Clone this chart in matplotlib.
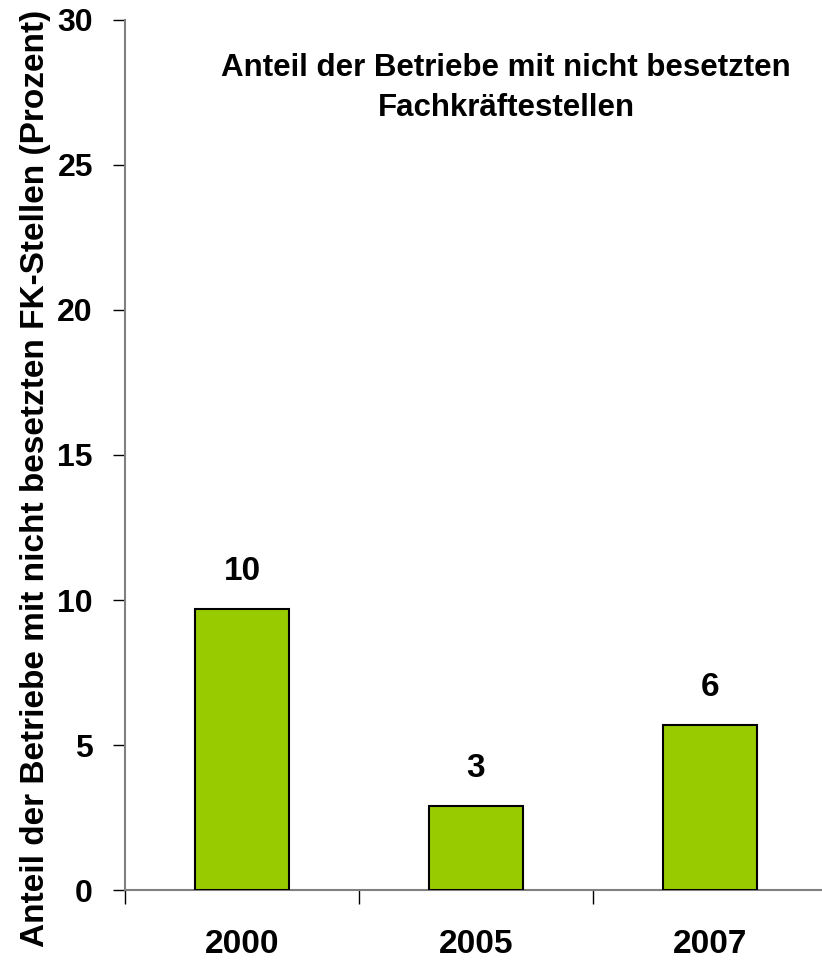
import matplotlib.pyplot as plt
import numpy as np

plt.rcParams['font.family'] = ['Liberation Sans', 'DejaVu Sans']

years = ['2000', '2005', '2007']
shares = [9.7, 2.9, 5.7]
y_ticks = [0, 5, 10, 15, 20, 25, 30]

fig = plt.figure(figsize=(8.22, 9.6), dpi=100)
ax = fig.add_axes([0.152, 0.0729, 0.854, 0.9063])

x = np.arange(len(years))
bars = ax.bar(x, shares, width=0.4, color='#99CC00', edgecolor='black', linewidth=1.5, zorder=3)

for xi, v in zip(x, shares):
  ax.text(xi, v + 0.75, f'{v:.0f}', ha='center', va='bottom', fontsize=24, fontweight='bold')

ax.set_xlim(-0.5, 2.5)
ax.set_ylim(0, 30)
ax.set_yticks(y_ticks)
ax.set_yticklabels([str(t) for t in y_ticks], fontsize=23, fontweight='bold')
ax.tick_params(axis='y', direction='out', length=9, width=1, pad=14, color='black')

ax.set_xticks(x)
ax.set_xticklabels(years, fontsize=24, fontweight='bold')
ax.tick_params(axis='x', which='major', length=0, pad=28)
ax.set_xticks(np.arange(-0.5, 3.0, 1.0), minor=True)
ax.tick_params(axis='x', which='minor', direction='out', length=10, width=1, color='black')

for s in ['top', 'right']:
  ax.spines[s].set_visible(False)
for s in ['left', 'bottom']:
  ax.spines[s].set_color('#808080')
  ax.spines[s].set_linewidth(1.5)

fig.text(0.043, 0.502, 'Anteil der Betriebe mit nicht besetzten FK-Stellen (Prozent)',
         rotation=90, ha='center', va='center', fontsize=24, fontweight='bold')

ax.text(1.13, 28.85, 'Anteil der Betriebe mit nicht besetzten\nFachkräftestellen',
        ha='center', va='top', fontsize=22.5, fontweight='bold', linespacing=1.4)

fig.savefig('out.png', dpi=100)
